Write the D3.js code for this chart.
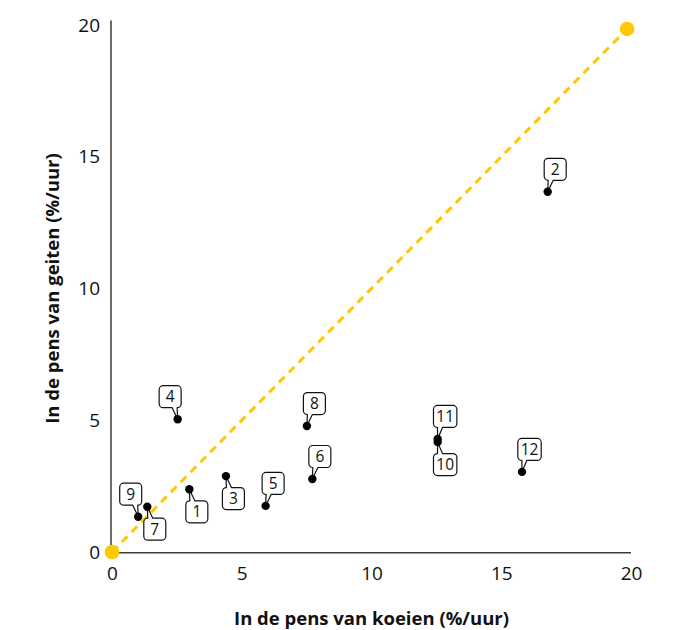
<!DOCTYPE html>
<html>
<head>
<meta charset="utf-8">
<script src="https://cdn.jsdelivr.net/npm/d3@7"></script>
<style>
	body { margin: 0; background: #fff; }
	text { font-family: "Open Sans", sans-serif; fill: #111; }
</style>
</head>
<body>
<svg></svg>
<script>
// data
const ids = ["1", "2", "3", "4", "5", "6", "7", "8", "9", "10", "11", "12"];
const cowRate = [2.98, 16.79, 4.39, 2.53, 5.92, 7.72, 1.36, 7.51, 1.01, 12.55, 12.55, 15.8];
const goatRate = [2.38, 13.67, 2.88, 5.04, 1.75, 2.77, 1.72, 4.78, 1.34, 4.17, 4.29, 3.04];
// where the callout sits: u/d = above/below, l/r = left/right of the dot
const labelPos = ["dr", "ur", "dr", "ul", "ur", "ur", "dr", "ur", "ul", "dr", "ur", "ur"];
const lineX = [0, 19.85];
const lineY = [0, 19.85];
const ticks = [0, 5, 10, 15, 20];
const xTitle = "In de pens van koeien (%/uur)";
const yTitle = "In de pens van geiten (%/uur)";

const margin = { t: 25, r: 42, b: 78, l: 112 };
const size = { w: 673, h: 630 };
const svg = d3.select("svg");

svg.attr("width", size.w).attr("height", size.h);

const data = ids.map((id, i) => ({
	id: id,
	x: cowRate[i],
	y: goatRate[i],
	pos: labelPos[i],
}));

let scaleX = d3
	.scaleLinear()
	.domain([0, 20])
	.range([margin.l, size.w - margin.r]);
let scaleY = d3
	.scaleLinear()
	.domain([0, 20])
	.range([size.h - margin.b, margin.t]);

// axes
let xAxis = svg
	.append("g")
	.attr("transform", `translate(0,${scaleY(0) + 0.7})`)
	.call(d3.axisBottom(scaleX).tickValues(ticks).tickSize(0).tickPadding(14));
let yAxis = svg
	.append("g")
	.attr("transform", `translate(${scaleX(0) - 1},0)`)
	.call(d3.axisLeft(scaleY).tickValues(ticks).tickSize(0).tickPadding(11));

[xAxis, yAxis].forEach((g) => {
	g.select(".domain").attr("stroke", "#3a3a3a").attr("stroke-width", 1.5);
	g.selectAll("text")
		.style("font-family", '"Open Sans", sans-serif')
		.style("font-size", "19px")
		.attr("fill", "#111");
});
xAxis.selectAll("text").attr("dy", "0.71em");
yAxis.select(".domain").attr("d", `M0,${scaleY(0)}V${scaleY(20.17)}`);
xAxis.select(".domain").attr("d", `M${scaleX(0) - 1},0H${scaleX(20)}`);

svg.append("text")
	.attr("x", (scaleX(0) + scaleX(20)) / 2)
	.attr("y", 625)
	.attr("text-anchor", "middle")
	.style("font-weight", "bold")
	.style("font-size", "18.5px")
	.text(xTitle);

svg.append("text")
	.attr("transform", `translate(58.5,${(scaleY(0) + scaleY(20)) / 2}) rotate(-90)`)
	.attr("text-anchor", "middle")
	.style("font-weight", "bold")
	.style("font-size", "18.5px")
	.text(yTitle);

// dashed diagonal with its end dots
const yellow = "#ffc800";
svg.append("line")
	.attr("x1", scaleX(lineX[0]))
	.attr("y1", scaleY(lineY[0]))
	.attr("x2", scaleX(lineX[1]))
	.attr("y2", scaleY(lineY[1]))
	.attr("stroke", yellow)
	.attr("stroke-width", 3)
	.attr("stroke-dasharray", "8,6");

svg.append("g")
	.selectAll("circle")
	.data(lineX)
	.join("circle")
	.attr("cx", (d) => scaleX(d))
	.attr("cy", (d, i) => scaleY(lineY[i]))
	.attr("r", 7.3)
	.attr("fill", yellow);

// callouts
function calloutPath(d) {
	const px = scaleX(d.x);
	const py = scaleY(d.y);
	const sx = d.pos[1] === "r" ? 1 : -1;
	const sy = d.pos[0] === "d" ? 1 : -1;
	const cx = px + sx * 7.5;
	const cy = py + sy * 22.5;
	const hw = d.id.length > 1 ? 11.7 : 11;
	const hh = 11;
	const r = 4;
	const x0 = cx - hw,
		x1 = cx + hw,
		y0 = cy - hh,
		y1 = cy + hh;
	// base of the tail on the side facing the dot
	let bL, bR;
	if (sx > 0) {
		bL = x0 + r;
		bR = x0 + r + 5;
	} else {
		bL = x1 - r - 5;
		bR = x1 - r;
	}
	const p = d3.path();
	p.moveTo(x0 + r, y0);
	if (sy > 0) {
		p.lineTo(bL, y0);
		p.lineTo(px, py);
		p.lineTo(bR, y0);
	}
	p.arcTo(x1, y0, x1, y1, r);
	p.arcTo(x1, y1, x0, y1, r);
	if (sy < 0) {
		p.lineTo(bR, y1);
		p.lineTo(px, py);
		p.lineTo(bL, y1);
	}
	p.arcTo(x0, y1, x0, y0, r);
	p.arcTo(x0, y0, x1, y0, r);
	p.closePath();
	d.cx = cx;
	d.cy = cy;
	return p.toString();
}

let callouts = svg.append("g").selectAll("g").data(data).join("g");

callouts
	.append("path")
	.attr("d", calloutPath)
	.attr("fill", "#fff")
	.attr("stroke", "#111")
	.attr("stroke-width", 1.2)
	.attr("stroke-linejoin", "round");

callouts
	.append("text")
	.attr("x", (d) => d.cx)
	.attr("y", (d) => d.cy)
	.attr("dy", "0.36em")
	.attr("text-anchor", "middle")
	.style("font-size", "15.5px")
	.text((d) => d.id);

svg.append("g")
	.selectAll("circle")
	.data(data)
	.join("circle")
	.attr("cx", (d) => scaleX(d.x))
	.attr("cy", (d) => scaleY(d.y))
	.attr("r", 4.2)
	.attr("fill", "#000");
</script>
</body>
</html>
